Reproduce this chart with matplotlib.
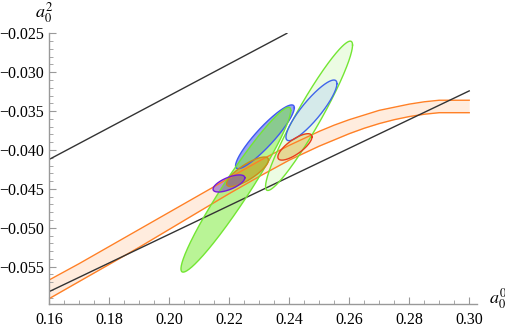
import numpy as np
import matplotlib
matplotlib.use("Agg")
import matplotlib.pyplot as plt
from matplotlib.ticker import MultipleLocator, FormatStrFormatter

plt.rcParams['font.family'] = ['Liberation Serif', 'DejaVu Serif']
plt.rcParams['mathtext.fontset'] = 'stix'

# orange band (upper / lower edge)
band_x = [0.16, 0.17, 0.18, 0.19, 0.20, 0.21, 0.22, 0.23, 0.24,
          0.245, 0.25, 0.255, 0.26, 0.265, 0.27, 0.275, 0.28, 0.285, 0.29, 0.295, 0.30]
band_hi = [-0.0567, -0.0546, -0.0524, -0.0502, -0.0480, -0.0458, -0.0436, -0.0414, -0.0394,
           -0.0385, -0.0376, -0.0368, -0.0361, -0.0355, -0.0349, -0.0345, -0.0341, -0.0338,
           -0.0336, -0.0336, -0.0336]
band_lo = [-0.0591, -0.0569, -0.0547, -0.0525, -0.0502, -0.0479, -0.0456, -0.0434, -0.0413,
           -0.0404, -0.0395, -0.0387, -0.0379, -0.0372, -0.0366, -0.0361, -0.0357, -0.0354,
           -0.0352, -0.0352, -0.0352]

# two straight black lines
line1_x = [0.16, 0.2392]
line1_y = [-0.0412, -0.025]
line2_x = [0.16, 0.30]
line2_y = [-0.0582, -0.0324]

# ellipses: centre x, centre y, sigma x, sigma y, correlation
ell_names = ["blue", "green", "palegreen", "lightblue", "olive", "red", "purple"]
ell_cx = [0.2319, 0.2222, 0.2466, 0.2474, 0.2261, 0.2419, 0.2199]
ell_cy = [-0.0383, -0.0451, -0.0356, -0.0349, -0.0428, -0.0396, -0.0443]
ell_sx = [0.0098, 0.0183, 0.0145, 0.0085, 0.0070, 0.0057, 0.0053]
ell_sy = [0.0041, 0.0106, 0.0096, 0.0039, 0.0019, 0.0017, 0.0011]
ell_rho = [0.91, 0.96, 0.947, 0.88, 0.80, 0.76, 0.66]

styles = {
    "blue":      dict(fc=(0.10, 0.20, 0.90), alpha=0.45, ec=(0.25, 0.35, 0.95)),
    "green":     dict(fc=(0.50, 0.92, 0.25), alpha=0.55, ec=(0.45, 0.90, 0.20)),
    "palegreen": dict(fc=(0.60, 0.95, 0.40), alpha=0.18, ec=(0.45, 0.90, 0.20)),
    "lightblue": dict(fc=(0.75, 0.85, 0.95), alpha=0.50, ec=(0.25, 0.40, 0.92)),
    "olive":     dict(fc=(0.75, 0.55, 0.00), alpha=0.50, ec=(0.80, 0.55, 0.10)),
    "red":       dict(fc=(0.85, 0.70, 0.20), alpha=0.35, ec=(0.90, 0.25, 0.10)),
    "purple":    dict(fc=(0.45, 0.25, 0.75), alpha=0.50, ec=(0.45, 0.10, 0.85)),
}

fig = plt.figure(figsize=(5.06, 3.27), dpi=100)
ax = fig.add_axes([0.0974, 0.0703, 0.8453, 0.8277])

ax.fill_between(band_x, band_lo, band_hi, color=(1.0, 0.5, 0.15), alpha=0.15, lw=0)
ax.plot(band_x, band_hi, color=(1.0, 0.5, 0.15), lw=1)
ax.plot(band_x, band_lo, color=(1.0, 0.5, 0.15), lw=1)

ax.plot(line1_x, line1_y, color="#333333", lw=1)
ax.plot(line2_x, line2_y, color="#333333", lw=1)

t = np.linspace(0, 2 * np.pi, 300)
for i, name in enumerate(ell_names):
    ex = ell_cx[i] + ell_sx[i] * np.cos(t)
    ey = ell_cy[i] + ell_sy[i] * (ell_rho[i] * np.cos(t) + np.sqrt(1 - ell_rho[i] ** 2) * np.sin(t))
    st = styles[name]
    ax.fill(ex, ey, color=st["fc"], alpha=st["alpha"], lw=0)
    ax.plot(ex, ey, color=st["ec"], lw=1)

ax.set_xlim(0.16, 0.3026)
ax.set_ylim(-0.0598, -0.025)

for s in ["top", "right"]:
    ax.spines[s].set_visible(False)
for s in ["left", "bottom"]:
    ax.spines[s].set_color("#999999")
    ax.spines[s].set_linewidth(1)

ax.xaxis.set_major_locator(MultipleLocator(0.02))
ax.xaxis.set_minor_locator(MultipleLocator(0.005))
ax.yaxis.set_major_locator(MultipleLocator(0.005))
ax.yaxis.set_minor_locator(MultipleLocator(0.001))
ax.xaxis.set_major_formatter(FormatStrFormatter("%.2f"))
ax.yaxis.set_major_formatter(plt.FuncFormatter(lambda v, p: ("%.3f" % v).replace("-", "\u2212")))
ax.tick_params(which="both", direction="in", color="#999999", labelsize=11.5)
ax.tick_params(which="major", length=5, width=0.8)
ax.tick_params(which="minor", length=3, width=0.6)
ax.tick_params(axis="x", pad=6)
ax.tick_params(axis="y", pad=4)

fig.text(0.087, 0.962, r"$a_0^2$", fontsize=13, ha="center", va="center")
fig.text(0.984, 0.086, r"$a_0^0$", fontsize=13, ha="center", va="center")

fig.savefig("out.png", dpi=100)
